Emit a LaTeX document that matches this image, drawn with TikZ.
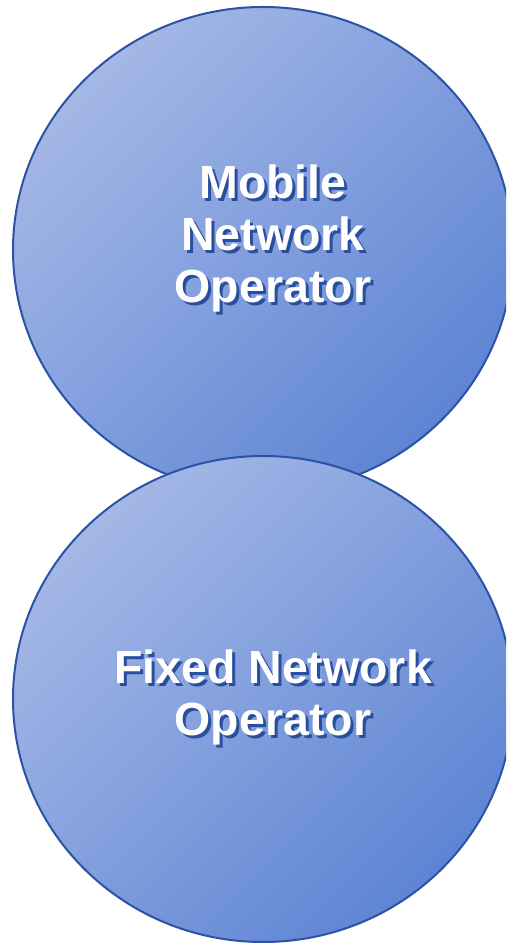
\documentclass[tikz,border=0pt]{standalone}
\usepackage{fontspec}
\setmainfont{Liberation Sans}
\definecolor{lightfill}{RGB}{164,184,230}
\definecolor{darkfill}{RGB}{94,132,212}
\definecolor{rim}{RGB}{44,82,165}
\definecolor{shadowblue}{RGB}{42,78,158}
\tikzset{
  bubble/.style={draw=rim, line width=2pt, top color=lightfill, bottom color=darkfill, shading angle=45},
  labeltext/.style={align=center, inner sep=0pt, font=\fontsize{46.5}{52}\selectfont\bfseries, text=white},
  labelshadow/.style={align=center, inner sep=0pt, font=\fontsize{46.5}{52}\selectfont\bfseries, text=shadowblue}
}
\begin{document}
\begin{tikzpicture}[x=1pt,y=1pt]
\useasboundingbox (0,0) rectangle (506,944);
\clip (0,0) rectangle (506,944);
% top circle
\path[bubble] (263,694) ellipse [x radius=250, y radius=243];
\node[labelshadow] (mnoshadow) at (276,702.5) {Mobile\\Network\\Operator};
\node[labeltext] (mno) at (273,705.5) {Mobile\\Network\\Operator};
% bottom circle
\path[bubble] (263,245) ellipse [x radius=250, y radius=243];
\node[labelshadow] (fnoshadow) at (276,243.7) {Fixed Network\\Operator};
\node[labeltext] (fno) at (273,246.7) {Fixed Network\\Operator};
\end{tikzpicture}
\end{document}
